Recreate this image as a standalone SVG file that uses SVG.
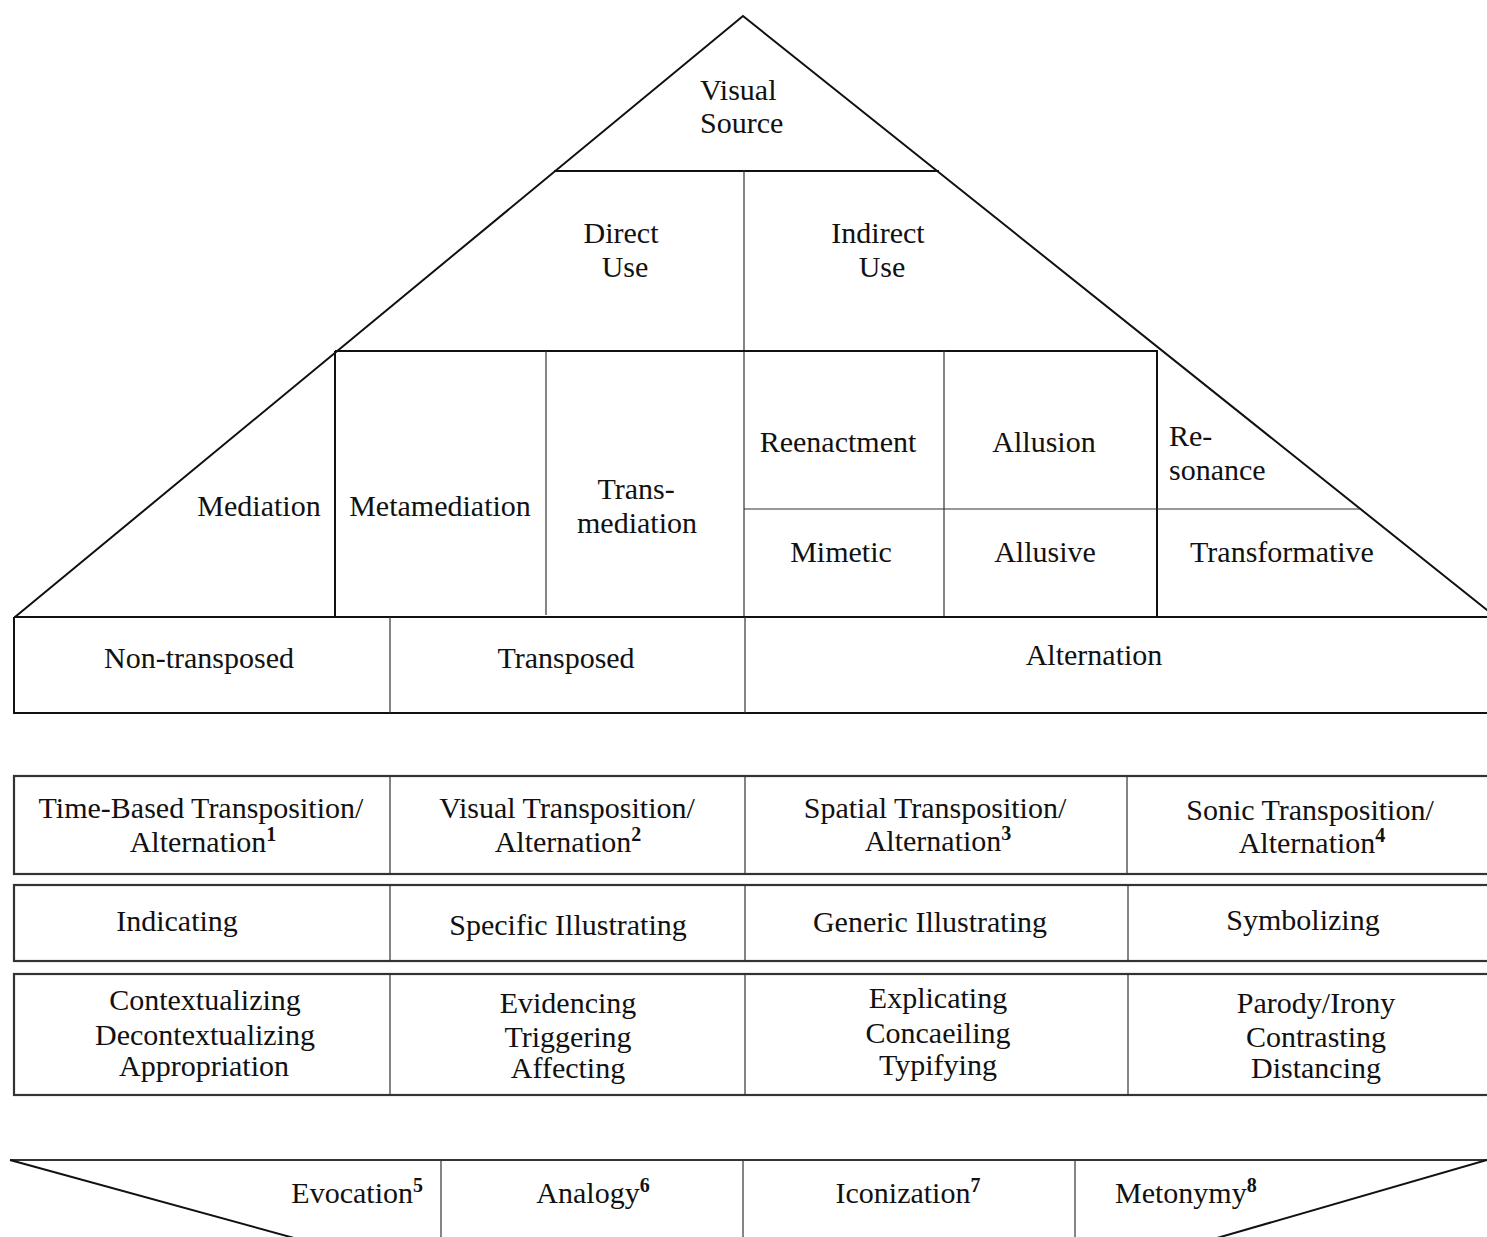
<svg xmlns="http://www.w3.org/2000/svg" width="1487" height="1237" viewBox="0 0 1487 1237">
<style>
.t{font-family:"Liberation Serif","Times New Roman",serif;font-size:30px;fill:#111;text-anchor:middle}
.s{text-anchor:start}
.e{text-anchor:end}
.sup{font-size:20px;font-weight:bold}
.k{stroke:#111;stroke-width:2;fill:none}
.f{stroke:#333;stroke-width:1.2;fill:none}
.r{stroke:#333;stroke-width:2.2;fill:none}
</style>
<rect width="1487" height="1237" fill="#fff"/>
<g id="connectors">
<path class="k" d="M15 617 L743 16 L1497 618"/>
<line class="k" x1="554" y1="171" x2="939" y2="171"/>
<line class="f" x1="744" y1="171" x2="744" y2="617"/>
<line class="k" x1="335" y1="351" x2="1158" y2="351"/>
<line class="k" x1="335" y1="351" x2="335" y2="617"/>
<line class="f" x1="546" y1="351" x2="546" y2="615"/>
<line class="f" x1="944" y1="351" x2="944" y2="617"/>
<line class="k" x1="1157" y1="351" x2="1157" y2="617"/>
<line class="f" x1="744" y1="509" x2="1360" y2="509"/>
<line class="k" x1="14" y1="617" x2="1490" y2="617"/>
<path class="k" d="M14 617 L14 713 L1490 713"/>
<line class="f" x1="390" y1="617" x2="390" y2="713"/>
<line class="f" x1="745" y1="617" x2="745" y2="713"/>
<rect class="r" x="14" y="776" width="1490" height="98"/>
<rect class="r" x="14" y="885" width="1490" height="76"/>
<rect class="r" x="14" y="974" width="1490" height="121"/>
<path class="f" d="M390 776 V874 M745 776 V874 M1127 776 V874"/>
<path class="f" d="M390 885 V961 M745 885 V961 M1128 885 V961"/>
<path class="f" d="M390 974 V1095 M745 974 V1095 M1128 974 V1095"/>
<line class="r" x1="10" y1="1160" x2="1490" y2="1160"/>
<line class="k" x1="10" y1="1160" x2="294" y2="1238"/>
<line class="k" x1="1487" y1="1160" x2="1217" y2="1238"/>
<line class="f" x1="441" y1="1160" x2="441" y2="1237"/>
<line class="f" x1="743" y1="1160" x2="743" y2="1237"/>
<line class="f" x1="1075" y1="1160" x2="1075" y2="1237"/>
</g>
<g id="visual-source"><text class="t s" x="700" y="100">Visual</text><text class="t s" x="700" y="133">Source</text></g>
<g id="direct-use"><text class="t" x="621" y="243">Direct</text><text class="t" x="625" y="277">Use</text></g>
<g id="indirect-use"><text class="t" x="878" y="243">Indirect</text><text class="t" x="882" y="277">Use</text></g>
<g id="mediation"><text class="t" x="259" y="516">Mediation</text></g>
<g id="metamediation"><text class="t" x="440" y="516">Metamediation</text></g>
<g id="transmediation"><text class="t" x="636" y="499">Trans-</text><text class="t" x="637" y="533">mediation</text></g>
<g id="reenactment"><text class="t" x="838" y="452">Reenactment</text></g>
<g id="allusion"><text class="t" x="1044" y="452">Allusion</text></g>
<g id="resonance"><text class="t s" x="1169" y="446">Re-</text><text class="t s" x="1169" y="480">sonance</text></g>
<g id="mimetic"><text class="t" x="841" y="562">Mimetic</text></g>
<g id="allusive"><text class="t" x="1045" y="562">Allusive</text></g>
<g id="transformative"><text class="t" x="1282" y="562">Transformative</text></g>
<g id="non-transposed"><text class="t" x="199" y="668">Non-transposed</text></g>
<g id="transposed"><text class="t" x="566" y="668">Transposed</text></g>
<g id="alternation"><text class="t" x="1094" y="665">Alternation</text></g>
<g id="time-based"><text class="t" x="201" y="818">Time-Based Transposition/</text><text class="t" x="203" y="852">Alternation<tspan class="sup" dy="-11">1</tspan></text></g>
<g id="visual-transposition"><text class="t" x="567" y="818">Visual Transposition/</text><text class="t" x="568" y="852">Alternation<tspan class="sup" dy="-11">2</tspan></text></g>
<g id="spatial-transposition"><text class="t" x="935" y="818">Spatial Transposition/</text><text class="t" x="938" y="851">Alternation<tspan class="sup" dy="-11">3</tspan></text></g>
<g id="sonic-transposition"><text class="t" x="1310" y="820">Sonic Transposition/</text><text class="t" x="1312" y="853">Alternation<tspan class="sup" dy="-11">4</tspan></text></g>
<g id="indicating"><text class="t" x="177" y="931">Indicating</text></g>
<g id="specific-illustrating"><text class="t" x="568" y="935">Specific Illustrating</text></g>
<g id="generic-illustrating"><text class="t" x="930" y="932">Generic Illustrating</text></g>
<g id="symbolizing"><text class="t" x="1303" y="930">Symbolizing</text></g>
<g id="functions-1"><text class="t" x="205" y="1010">Contextualizing</text><text class="t" x="205" y="1045">Decontextualizing</text><text class="t" x="204" y="1076">Appropriation</text></g>
<g id="functions-2"><text class="t" x="568" y="1013">Evidencing</text><text class="t" x="568" y="1047">Triggering</text><text class="t" x="568" y="1078">Affecting</text></g>
<g id="functions-3"><text class="t" x="938" y="1008">Explicating</text><text class="t" x="938" y="1043">Concaeiling</text><text class="t" x="938" y="1075">Typifying</text></g>
<g id="functions-4"><text class="t" x="1316" y="1013">Parody/Irony</text><text class="t" x="1316" y="1047">Contrasting</text><text class="t" x="1316" y="1078">Distancing</text></g>
<g id="evocation"><text class="t e" x="423" y="1203">Evocation<tspan class="sup" dy="-11">5</tspan></text></g>
<g id="analogy"><text class="t" x="593" y="1203">Analogy<tspan class="sup" dy="-11">6</tspan></text></g>
<g id="iconization"><text class="t" x="908" y="1203">Iconization<tspan class="sup" dy="-11">7</tspan></text></g>
<g id="metonymy"><text class="t s" x="1115" y="1203">Metonymy<tspan class="sup" dy="-11">8</tspan></text></g>
</svg>
